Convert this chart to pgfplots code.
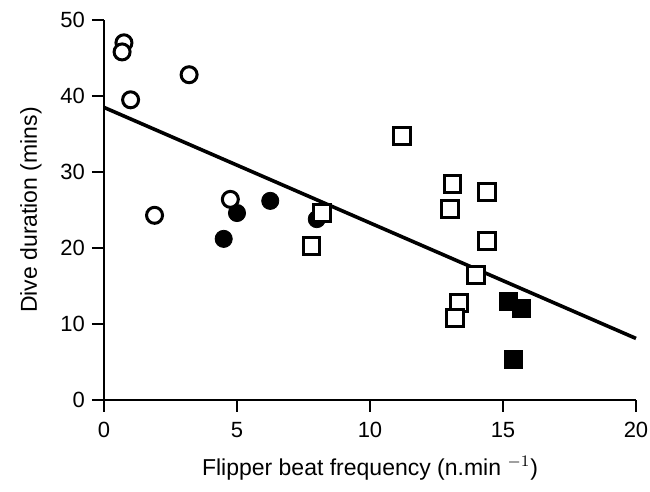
\documentclass[border=0pt]{standalone}
\usepackage{pgfplots}
\pgfplotsset{compat=1.18}
\usepackage{fontspec}
\setmainfont{Liberation Sans}
\begin{document}
\begin{tikzpicture}
\begin{axis}[
  at={(0,0)}, anchor=origin,
  scale only axis, width=266pt, height=190pt,
  xmin=0, xmax=20, ymin=0, ymax=50,
  axis x line*=bottom, axis y line*=left,
  axis line style={line width=1.4pt, -},
  xtick={0,5,10,15,20}, ytick={0,10,20,30,40,50},
  tick align=outside, major tick length=6pt,
  tick style={line width=1.4pt, black},
  /pgf/number format/assume math mode=true,
  ticklabel style={font=\fontsize{11}{12}\selectfont},
  xticklabel style={yshift=-1.5pt},
  label style={font=\fontsize{11.5}{13}\selectfont},
  xlabel={Flipper beat frequency (n.min $^{-1}$)},
  ylabel={Dive duration (mins)},
  xlabel style={yshift=-2.5pt},
  ylabel style={yshift=2.5pt},
  clip=false,
]
% regression line
\addplot[black, line width=1.8pt] coordinates {(0,38.5) (20,8.1)};
% open circles
\addplot[only marks, mark=*, mark size=4pt, mark options={line width=1.5pt, draw=black, fill=white}] coordinates {
(0.75,47.0) (0.68,45.8) (1.0,39.5) (3.2,42.8) (1.9,24.3)
};
% filled circles
\addplot[only marks, mark=*, mark size=4.3pt, mark options={black, fill=black}] coordinates {
(4.5,21.2) (5.0,24.6) (6.25,26.2) (8.0,23.8)
};
\addplot[only marks, mark=*, mark size=4pt, mark options={line width=1.5pt, draw=black, fill=white}] coordinates {
(4.75,26.4)
};
% open squares
\addplot[only marks, mark=square*, mark size=4.2pt, mark options={line width=1.5pt, draw=black, fill=white}] coordinates {
(8.2,24.6) (7.8,20.3) (11.2,34.7) (13.1,28.4) (13.0,25.1) (14.4,27.4) (14.4,20.9) (14.0,16.4) (13.35,12.8) (13.2,10.8)
};
% filled squares
\addplot[only marks, mark=square*, mark size=4.5pt, mark options={draw=black, fill=black}] coordinates {
(15.2,13.0) (15.7,12.0) (15.4,5.4)
};
\end{axis}
\pgfresetboundingbox
\path (-52pt,-46pt) rectangle (273pt,200pt);
\end{tikzpicture}
\end{document}
